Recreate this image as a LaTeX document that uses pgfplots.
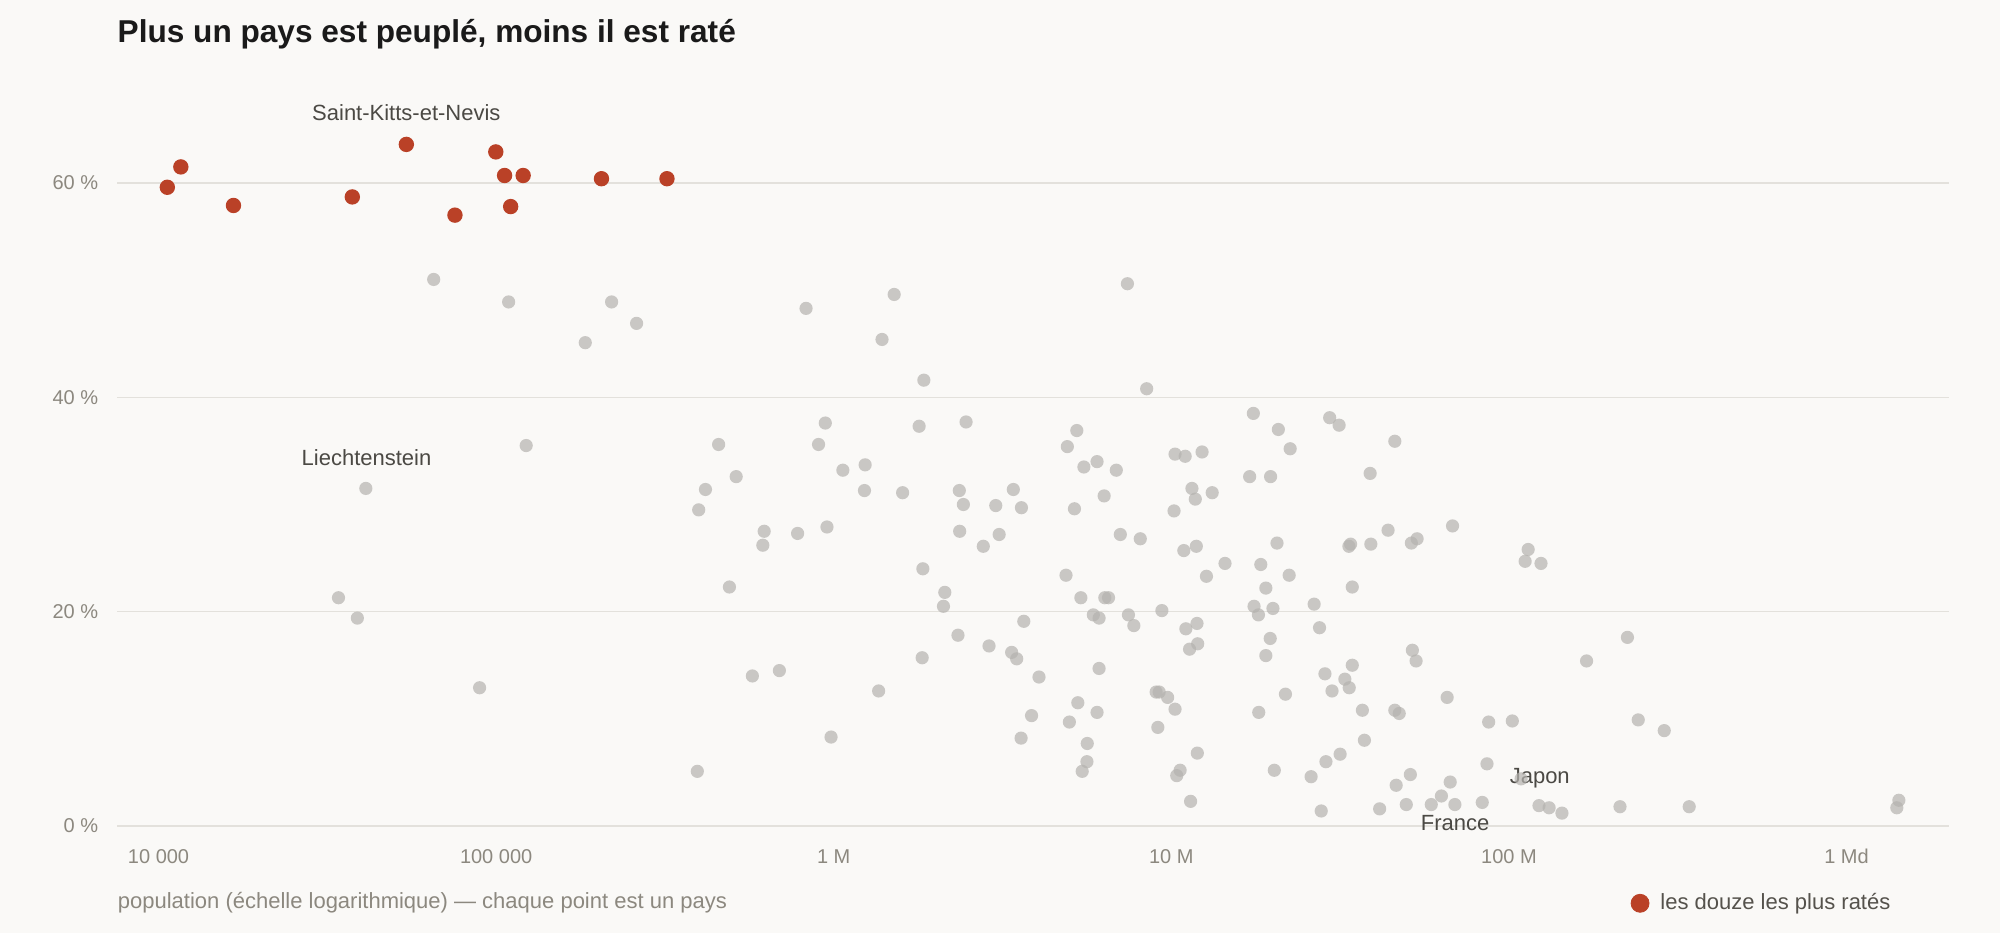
\documentclass[border=0pt]{standalone}
\usepackage{fontspec}
\setmainfont{Liberation Sans}
\usepackage{pgfplots}
\usepackage{pgfplotstable}
\pgfplotsset{compat=1.18}
\definecolor{bgc}{HTML}{FAF9F7}
\definecolor{gridc}{HTML}{E3E1DC}
\definecolor{tickc}{HTML}{8C887F}
\definecolor{annc}{HTML}{4B4944}
\definecolor{legc}{HTML}{55524C}
\definecolor{titlec}{HTML}{1A1A1A}
\definecolor{redc}{HTML}{BA4127}
\definecolor{grayc}{HTML}{B5B3AF}

% lp = log10(population), pct = share (%)
\pgfplotstableread{
lp pct
4.815 51.0
5.037 48.9
5.342 48.9
5.416 46.9
5.264 45.1
5.089 35.5
4.614 31.5
4.533 21.3
4.589 19.4
4.951 12.9
5.600 29.5
5.620 31.4
5.659 35.6
5.596 5.1
5.918 48.3
6.179 49.6
6.143 45.4
6.267 41.6
6.870 50.6
6.927 40.8
5.975 37.6
5.955 35.6
5.711 32.6
6.027 33.2
6.093 33.7
6.091 31.3
6.253 37.3
6.204 31.1
6.392 37.7
6.372 31.3
6.384 30.0
6.373 27.5
6.443 26.1
6.480 29.9
6.490 27.2
6.532 31.4
6.556 29.7
5.794 27.5
5.790 26.2
5.893 27.3
5.980 27.9
6.720 36.9
6.692 35.4
6.741 33.5
6.780 34.0
6.837 33.2
6.801 30.8
6.713 29.6
6.849 27.2
6.908 26.8
5.691 22.3
6.264 24.0
6.329 21.8
6.325 20.5
6.688 23.4
6.732 21.3
6.803 21.3
6.814 21.3
6.769 19.7
6.786 19.4
6.873 19.7
6.889 18.7
6.972 20.1
6.563 19.1
6.368 17.8
6.460 16.8
6.527 16.2
6.542 15.6
6.262 15.7
6.608 13.9
6.786 14.7
5.759 14.0
5.839 14.5
6.133 12.6
5.992 8.3
6.586 10.3
6.555 8.2
6.723 11.5
6.698 9.7
6.780 10.6
6.751 7.7
6.750 6.0
6.736 5.1
7.243 38.5
7.317 37.0
7.352 35.2
7.469 38.1
7.497 37.4
7.662 35.9
7.011 34.7
7.041 34.5
7.091 34.9
7.232 32.6
7.294 32.6
7.589 32.9
7.061 31.5
7.071 30.5
7.121 31.1
7.008 29.4
7.037 25.7
7.074 26.1
7.159 24.5
7.104 23.3
7.313 26.4
7.265 24.4
7.349 23.4
7.280 22.2
7.245 20.5
7.258 19.7
7.301 20.3
7.423 20.7
7.439 18.5
7.043 18.4
7.076 18.9
7.531 26.3
7.526 26.1
7.591 26.3
7.642 27.6
7.711 26.4
7.728 26.8
7.833 28.0
7.536 22.3
8.057 25.8
8.048 24.7
8.095 24.5
7.293 17.5
7.280 15.9
7.054 16.5
7.078 17.0
7.714 16.4
7.725 15.4
7.536 15.0
7.455 14.2
7.514 13.7
7.527 12.9
7.476 12.6
6.955 12.5
6.964 12.5
6.989 12.0
7.011 10.9
6.960 9.2
7.338 12.3
7.259 10.6
7.566 10.8
7.662 10.8
7.675 10.5
7.817 12.0
7.940 9.7
8.010 9.8
7.572 8.0
7.500 6.7
7.458 6.0
7.077 6.8
7.026 5.2
7.016 4.7
7.305 5.2
7.414 4.6
7.057 2.3
7.444 1.4
7.708 4.8
7.666 3.8
7.617 1.6
7.696 2.0
7.770 2.0
7.800 2.8
7.826 4.1
7.840 2.0
7.935 5.8
7.921 2.2
8.036 4.4
8.089 1.9
8.119 1.7
8.157 1.2
8.351 17.6
8.230 15.4
8.383 9.9
8.460 8.9
8.329 1.8
8.534 1.8
9.155 2.4
9.149 1.7
}\grays

\pgfplotstableread{
lp pct
4.026 59.6
4.066 61.5
4.222 57.9
4.574 58.7
4.734 63.6
4.878 57.0
4.999 62.9
5.025 60.7
5.080 60.7
5.043 57.8
5.312 60.4
5.506 60.4
}\reds

\begin{document}
\begin{tikzpicture}
\fill[bgc] (0,0) rectangle (1000bp,-466.5bp);
\node[anchor=base west, inner sep=0pt, text=titlec,
      font=\bfseries\fontsize{15.8bp}{19bp}\selectfont]
  at (58.65bp,-21.35bp) {Plus un pays est peuplé, moins il est raté};
\node[anchor=base west, inner sep=0pt, text=tickc,
      font=\fontsize{11bp}{13bp}\selectfont]
  at (58.75bp,-454bp) {population (échelle logarithmique) — chaque point est un pays};
\begin{axis}[
  at={(58.5bp,-418.35bp)}, anchor=south west,
  scale only axis, width=916.15bp, height=380.45bp,
  xmode=log, xmin=7534, xmax=2.016e9,
  ymin=-1, ymax=70,
  clip=false,
  axis line style={draw=none},
  tick style={draw=none},
  major tick length=0pt,
  xtick={1e4,1e5,1e6,1e7,1e8,1e9},
  xticklabels={10 000,100 000,1 M,10 M,100 M,1 Md},
  ytick={0,20,40,60},
  yticklabels={0 \%,20 \%,40 \%,60 \%},
  ymajorgrids, xmajorgrids=false,
  grid style={draw=gridc, line width=0.7bp},
  ticklabel style={font=\fontsize{10bp}{12bp}\selectfont, text=tickc, inner sep=0pt},
  xticklabel style={anchor=base, yshift=-13.3bp},
  yticklabel style={anchor=east, xshift=-9.25bp},
  legend style={at={(0.8261,-0.0875)}, anchor=west, draw=none, fill=none,
    inner sep=0pt, outer sep=0pt,
    nodes={inner sep=0pt, text=legc, font=\fontsize{11bp}{13bp}\selectfont},
    cells={anchor=west},
    /tikz/every odd column/.append style={column sep=5.5bp}},
  legend cell align=left,
]
\addplot[only marks, mark=*, mark size=3.3bp, color=grayc,
  mark options={draw opacity=0, fill=grayc, fill opacity=0.7}, forget plot]
  table[x expr={10^(\thisrow{lp})}, y=pct] {\grays};
\addplot[only marks, mark=*, mark size=3.85bp, color=redc,
  mark options={draw opacity=0, fill=redc},
  legend image code/.code={\fill[redc] (0bp,0bp) circle (4.5bp);}]
  table[x expr={10^(\thisrow{lp})}, y=pct] {\reds};
\addlegendentry{les douze les plus ratés}
\begin{scope}[every node/.style={anchor=base, inner sep=0pt, text=annc,
    font=\fontsize{11bp}{13bp}\selectfont}]
\node at (axis cs:5.42e4,65.81) {Saint-Kitts-et-Nevis};
\node at (axis cs:4.13e4,33.68) {Liechtenstein};
\node at (axis cs:6.93e7,-0.44) {France};
\node at (axis cs:1.234e8,3.98) {Japon};
\end{scope}
\end{axis}
\pgfresetboundingbox
\useasboundingbox (0,0) rectangle (1000bp,-466.5bp);
\end{tikzpicture}
\end{document}
